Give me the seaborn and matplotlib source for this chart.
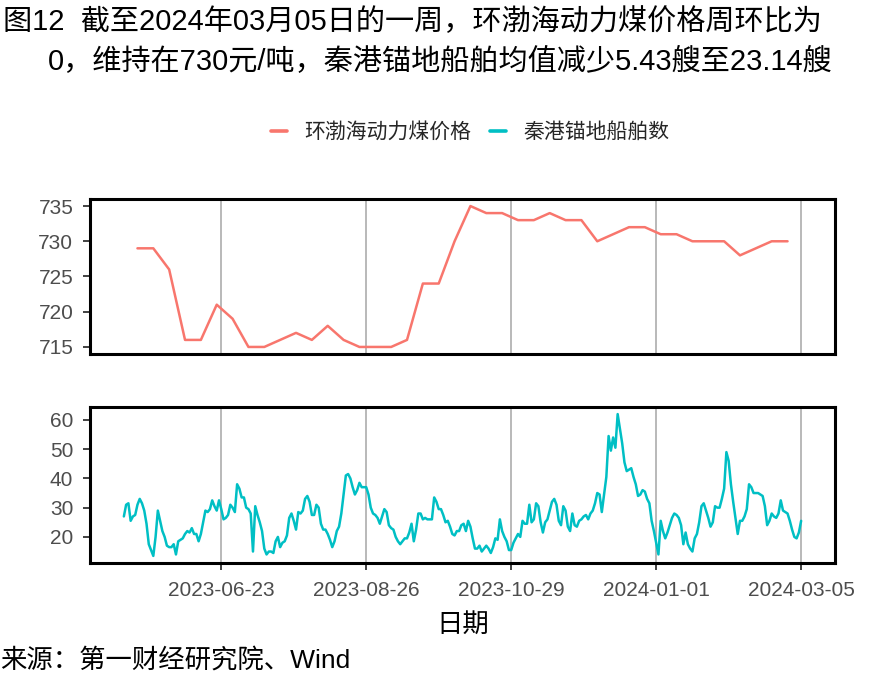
import numpy as np
import pandas as pd
import matplotlib
matplotlib.use("Agg")
import matplotlib.pyplot as plt
import matplotlib.dates as mdates
from matplotlib.lines import Line2D
import seaborn as sns

# weekly coal price (元/吨), first week 2023-05-17
price_start = "2023-05-17"
price = [729, 729, 726, 716, 716, 721, 719, 715, 715, 716,
         717, 716, 718, 716, 715, 715, 715, 716, 724, 724,
         730, 735, 734, 734, 733, 733, 734, 733, 733, 730,
         731, 732, 732, 731, 731, 730, 730, 730, 728, 729,
         730, 730]

# daily ships at anchor, first day 2023-05-11
ships_start = "2023-05-11"
ships = [27, 31, 31.5, 25.5, 27, 27.5, 31, 33, 31.5, 29,
         24.5, 17.5, 15.5, 13.5, 20, 29, 25.5, 22, 20, 17,
         16.5, 16.5, 17.5, 14, 18.5, 19, 19.5, 21, 22, 21.5,
         23, 21, 21, 18.5, 21, 25, 29, 28.5, 29.5, 32.5,
         30.5, 29, 32.5, 29.5, 26, 26.5, 27.5, 31, 30, 28.5,
         38, 36.5, 33.5, 33.5, 30, 29.5, 28, 15, 30.5, 27.5,
         25, 22, 16, 14, 15, 15, 14.5, 18.5, 20, 16.5,
         18, 18.5, 20.5, 26.5, 28, 25.5, 22.5, 28.5, 28, 29,
         33, 34, 32, 27.5, 27.5, 31, 30, 24.5, 22.5, 22.5,
         21, 19, 16.5, 18.5, 22, 23.5, 28, 34.5, 41, 41.5,
         40, 37, 34.5, 36, 38.5, 37, 37, 37, 34.5, 30,
         28, 27.5, 26.5, 24.5, 27, 29.5, 28.5, 24, 23, 22.5,
         20, 18.5, 17.5, 18.5, 19.5, 19.5, 21.5, 24.5, 18.5, 22.5,
         28, 28, 26, 26.5, 26, 26, 26, 33.5, 32, 29.5,
         29.5, 27.5, 25, 25.5, 23.5, 21, 20.5, 22, 22, 24,
         24.5, 22, 25.5, 23.5, 19.5, 16, 16, 17, 15, 16,
         17, 16, 14.5, 16.5, 19.5, 19, 26, 22, 20, 18.5,
         15.5, 15.5, 18, 19.5, 21, 20, 25.5, 24.5, 24.5, 31,
         25, 26, 31.5, 30.5, 25, 21.5, 25, 26, 29, 32,
         33, 31, 25.5, 24, 30.5, 29, 23.5, 22, 28, 24,
         23.5, 25.5, 26, 27, 27.5, 26, 28, 29, 31.5, 35,
         34.5, 28.5, 34.5, 40.5, 54.5, 49.5, 54, 50.5, 62, 57,
         52, 45.5, 42.5, 43, 43.5, 40.5, 38, 34, 34.5, 36,
         35.5, 33, 31.5, 25.5, 22, 18, 14, 25.5, 22, 19.5,
         21.5, 24, 26.5, 28, 27.5, 26.5, 24, 17.5, 21.5, 17.5,
         16, 15, 19.5, 21, 25, 30.5, 31.5, 29, 26.5, 23.5,
         25, 30.5, 30, 30, 33, 36.5, 49, 46, 38, 32,
         26.5, 21, 25.5, 25.5, 27, 29.5, 38, 37, 35, 35,
         35, 34.5, 34, 30.5, 24, 25.5, 28, 27, 26.5, 28,
         32.5, 29, 28.5, 28, 25.5, 22.5, 20, 19.5, 21.5, 25.5]

series_names = ["环渤海动力煤价格", "秦港锚地船舶数"]
tick_dates = ["2023-06-23", "2023-08-26", "2023-10-29", "2024-01-01", "2024-03-05"]

price_df = pd.DataFrame({"日期": pd.date_range(price_start, periods=len(price), freq="7D"),
                         "value": price})
ships_df = pd.DataFrame({"日期": pd.date_range(ships_start, periods=len(ships), freq="D"),
                         "value": ships})

sns.set_theme(style="white")
plt.rcParams['font.family'] = ['Liberation Sans', 'Noto Sans CJK SC']

W, H = 885, 688
fig = plt.figure(figsize=(W / 100, H / 100), dpi=100)
ax1 = fig.add_axes([90 / W, 1 - 354 / H, 745 / W, 155 / H])
ax2 = fig.add_axes([90 / W, 1 - 563 / H, 745 / W, 156 / H], sharex=ax1)

colors = ["#F8766D", "#00BFC4"]
sns.lineplot(data=price_df, x="日期", y="value", ax=ax1, color=colors[0], lw=1.8, legend=False)
sns.lineplot(data=ships_df, x="日期", y="value", ax=ax2, color=colors[1], lw=1.8, legend=False)

# ggplot-like 5% expansion
x0, x1 = ships_df["日期"].min(), ships_df["日期"].max()
span = x1 - x0
ax2.set_xlim(x0 - span * 0.05, x1 + span * 0.05)
for ax, df in [(ax1, price_df), (ax2, ships_df)]:
    lo, hi = df["value"].min(), df["value"].max()
    ax.set_ylim(lo - (hi - lo) * 0.05, hi + (hi - lo) * 0.05)

ax1.set_yticks([715, 720, 725, 730, 735])
ax2.set_yticks([20, 30, 40, 50, 60])
ax2.set_xticks(pd.to_datetime(tick_dates))
ax2.xaxis.set_major_formatter(mdates.DateFormatter("%Y-%m-%d"))

for ax in (ax1, ax2):
    ax.set_ylabel("")
    ax.xaxis.grid(True, color="#B3B3B3", lw=1.3)
    ax.yaxis.grid(False)
    ax.set_axisbelow(True)
    for s in ax.spines.values():
        s.set_color("black")
        s.set_linewidth(2.2)
    ax.tick_params(axis="y", length=5, width=1.3, color="#333333",
                   labelcolor="#4D4D4D", labelsize=15, pad=7, left=True)

ax1.set_xlabel("")
ax1.tick_params(axis="x", length=0, labelbottom=False)
ax2.tick_params(axis="x", length=5, width=1.3, color="#333333",
                labelcolor="#4D4D4D", labelsize=15, pad=8, bottom=True)
ax2.set_xlabel("日期", fontsize=19, color="black", labelpad=9)

handles = [Line2D([], [], color=c, lw=2.6) for c in colors]
fig.legend(handles, series_names, loc="center",
           bbox_to_anchor=(470 / W, 1 - 132 / H), ncol=2, frameon=False,
           fontsize=15, handlelength=0.8, handletextpad=0.8, columnspacing=0.9)

fig.text(3 / W, 1 - 22 / H, "图12  截至2024年03月05日的一周，环渤海动力煤价格周环比为",
         fontsize=21, va="center", ha="left", color="black")
fig.text(48 / W, 1 - 62 / H, "0，维持在730元/吨，秦港锚地船舶均值减少5.43艘至23.14艘",
         fontsize=21, va="center", ha="left", color="black")
fig.text(0, 1 - 660 / H, "来源：第一财经研究院、Wind", fontsize=19,
         va="center", ha="left", color="black")

fig.savefig("out.png", dpi=100)
